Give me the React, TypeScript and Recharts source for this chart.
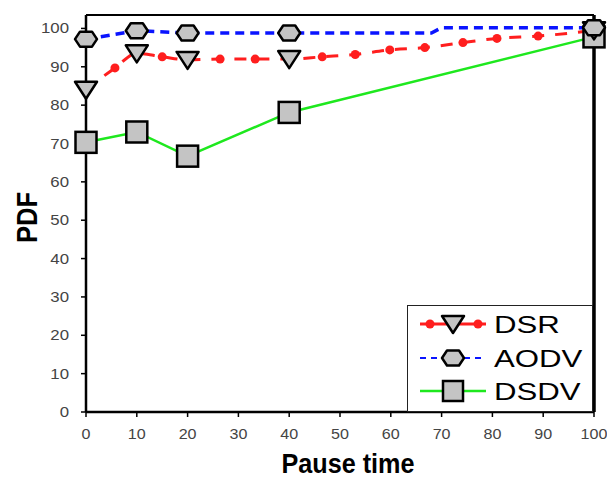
import React from "react";
import { LineChart, Line, XAxis, YAxis, ReferenceLine, Legend, Label } from "recharts";

// marker positions (pause time) and PDF values
const pauseTimes = [0, 10, 20, 40, 100];
const dsrValues = [84, 93.5, 91.8, 92, 99.5];
const aodvValues = [97.2, 99.4, 98.8, 98.8, 100.2];
const dsdvValues = [70.3, 73, 66.7, 78.1, 97.8];

// DSR curve: small red dots drawn between the markers
const dsrTraceTimes = [0, 5.7, 10, 15, 20, 26.4, 33.3, 40, 46.5, 53, 59.8, 66.7, 74.2, 80.9, 89, 100];
const dsrTraceValues = [84, 89.7, 93.5, 92.6, 91.8, 92, 92, 92, 92.6, 93.2, 94.4, 95, 96.3, 97.4, 98, 99.5];

// AODV curve: flat, steps up just before 70
const aodvTraceTimes = [0, 10, 20, 40, 68, 70, 100];
const aodvTraceValues = [97.2, 99.4, 98.8, 98.8, 98.8, 100.2, 100.2];

const seriesNames = ["DSR", "AODV", "DSDV"];
const xTicks = [0, 10, 20, 30, 40, 50, 60, 70, 80, 90, 100];
const yTicks = [0, 10, 20, 30, 40, 50, 60, 70, 80, 90, 100];

const toPoints = (ts: number[], vs: number[]) => ts.map((t, i) => ({ t, v: vs[i] }));

const dsrMarks = toPoints(pauseTimes, dsrValues);
const aodvMarks = toPoints(pauseTimes, aodvValues);
const dsdvMarks = toPoints(pauseTimes, dsdvValues);
const dsrTrace = toPoints(dsrTraceTimes, dsrTraceValues);
const aodvTrace = toPoints(aodvTraceTimes, aodvTraceValues);

const FONT = "'Liberation Sans', Arial, sans-serif";
const RED = "#ff1e1e";
const BLUE = "#0a14ff";
const GREEN = "#1ee81e";
const MARK_FILL = "#c4c4c4";

const triangle = (cx: number, cy: number) =>
  `${cx - 11},${cy - 8} ${cx + 11},${cy - 8} ${cx},${cy + 9}`;
const hexagon = (cx: number, cy: number) =>
  `${cx - 11},${cy} ${cx - 6},${cy - 7.5} ${cx + 6},${cy - 7.5} ${cx + 11},${cy} ${cx + 6},${cy + 7.5} ${cx - 6},${cy + 7.5}`;

const TriDot = (p: any) => (
  <polygon key={`tri-${p.index}`} points={triangle(p.cx, p.cy)} fill={MARK_FILL} stroke="#000" strokeWidth={2.5} strokeLinejoin="round" />
);
const HexDot = (p: any) => (
  <polygon key={`hex-${p.index}`} points={hexagon(p.cx, p.cy)} fill={MARK_FILL} stroke="#000" strokeWidth={2.5} strokeLinejoin="round" />
);
const SqDot = (p: any) => (
  <rect key={`sq-${p.index}`} x={p.cx - 10.5} y={p.cy - 10.5} width={21} height={21} fill={MARK_FILL} stroke="#000" strokeWidth={2.5} />
);
const RedDot = (p: any) => <circle key={`rd-${p.index}`} cx={p.cx} cy={p.cy} r={4.5} fill={RED} />;

// tick text is a little wider than plain Arial in the original
const XTick = (p: any) => (
  <g transform={`translate(${p.x} ${p.y}) scale(1.15 1)`}>
    <text x={0} y={0} dy="0.71em" textAnchor="middle" fontFamily={FONT} fontSize={14} fill="#444">
      {p.payload.value}
    </text>
  </g>
);
const YTick = (p: any) => (
  <g transform={`translate(${p.x} ${p.y}) scale(1.2 1)`}>
    <text x={0} y={0} dy="0.36em" textAnchor="end" fontFamily={FONT} fontSize={14} fill="#444">
      {p.payload.value}
    </text>
  </g>
);

const PdfLabel = (props: any) => {
  const vb = props.viewBox;
  const cx = vb.x + 27;
  const cy = vb.y + vb.height / 2 + 4;
  return (
    <g transform={`translate(${cx} ${cy}) rotate(-90) scale(0.88 1)`}>
      <text x={0} y={0} textAnchor="middle" dominantBaseline="central"
        fontFamily={FONT} fontWeight="bold" fontSize={29} fill="#000">
        PDF
      </text>
    </g>
  );
};

const PauseLabel = (props: any) => {
  const vb = props.viewBox;
  return (
    <g transform={`translate(${vb.x + vb.width / 2 + 8} ${vb.y + 52}) scale(0.9 1)`}>
      <text x={0} y={0} textAnchor="middle" dominantBaseline="central" fontFamily={FONT} fontWeight="bold" fontSize={28} fill="#000">
        Pause time
      </text>
    </g>
  );
};

const legendRows = [18, 52, 85];

const renderLegend = () => (
  <div style={{ width: 186, height: 107, border: "1.5px solid #222", background: "#fff", boxSizing: "border-box" }}>
    <svg width={184} height={104}>
      {seriesNames.map((name, i) => {
        const y = legendRows[i];
        return (
          <g key={name}>
            {i === 0 && (
              <>
                <line x1={12} x2={78} y1={y} y2={y} stroke={RED} strokeWidth={3} />
                <circle cx={22} cy={y} r={4.5} fill={RED} />
                <circle cx={70} cy={y} r={4.5} fill={RED} />
                <polygon points={triangle(45, y)} fill={MARK_FILL} stroke="#000" strokeWidth={2.5} strokeLinejoin="round" />
              </>
            )}
            {i === 1 && (
              <>
                <line x1={12} x2={78} y1={y} y2={y} stroke={BLUE} strokeWidth={2} strokeDasharray="6 5" />
                <polygon points={hexagon(45, y)} fill={MARK_FILL} stroke="#000" strokeWidth={2.5} strokeLinejoin="round" />
              </>
            )}
            {i === 2 && (
              <>
                <line x1={12} x2={78} y1={y} y2={y} stroke={GREEN} strokeWidth={2.5} />
                <rect x={35} y={y - 10} width={20} height={20} fill={MARK_FILL} stroke="#000" strokeWidth={2.5} />
              </>
            )}
            <g transform={`translate(86 ${y}) scale(1.3 1)`}>
              <text x={0} y={0} dy="0.36em" fontFamily={FONT} fontSize={24} fill="#000">
                {name}
              </text>
            </g>
          </g>
        );
      })}
    </svg>
  </div>
);

export default function App() {
  return (
    <div style={{ position: "absolute", left: 0, top: 0, background: "#fff" }}>
      <LineChart width={607} height={479} margin={{ top: 15, right: 13, bottom: 0, left: 0 }} style={{ fontFamily: FONT }}>
        <XAxis
          dataKey="t"
          type="number"
          domain={[0, 100]}
          ticks={xTicks}
          height={67}
          tickSize={5}
          tickMargin={12}
          axisLine={{ stroke: "#000", strokeWidth: 2.5 }}
          tickLine={{ stroke: "#000", strokeWidth: 1.5 }}
          tick={XTick}
        >
          <Label content={PauseLabel} />
        </XAxis>
        <YAxis
          type="number"
          domain={[0, 103.5]}
          ticks={yTicks}
          width={86}
          tickSize={5}
          tickMargin={12}
          axisLine={{ stroke: "#000", strokeWidth: 2.5 }}
          tickLine={{ stroke: "#000", strokeWidth: 1.5 }}
          tick={YTick}
        >
          <Label content={PdfLabel} />
        </YAxis>
        <ReferenceLine y={103.5} stroke="#000" strokeWidth={2} />
        <ReferenceLine x={100} stroke="#000" strokeWidth={3.5} />
        <Line data={dsdvMarks} dataKey="v" stroke={GREEN} strokeWidth={2.5} dot={SqDot} isAnimationActive={false} legendType="none" />
        <Line data={dsrTrace} dataKey="v" type="monotone" stroke={RED} strokeWidth={3} strokeDasharray="12 11" dot={RedDot} isAnimationActive={false} legendType="none" />
        <Line data={aodvTrace} dataKey="v" stroke={BLUE} strokeWidth={3.5} strokeDasharray="9 6" dot={false} isAnimationActive={false} legendType="none" />
        <Line data={dsrMarks} dataKey="v" stroke="none" dot={TriDot} isAnimationActive={false} legendType="none" />
        <Line data={aodvMarks} dataKey="v" stroke="none" dot={HexDot} isAnimationActive={false} legendType="none" />
        <Legend layout="vertical" align="center" verticalAlign="middle" content={renderLegend} wrapperStyle={{ left: 407, top: 305, width: 186 }} />
      </LineChart>
    </div>
  );
}
